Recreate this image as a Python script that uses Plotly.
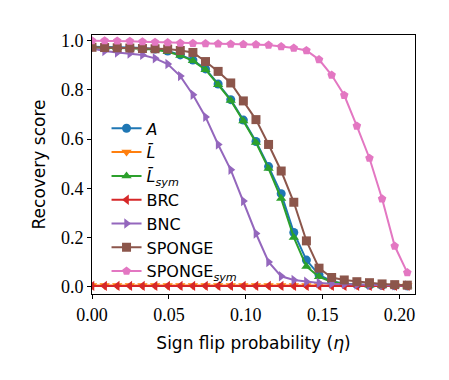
import plotly.graph_objects as go

# sign flip probability (x)
eta = [0.0, 0.0082, 0.0164, 0.0246, 0.0328, 0.041, 0.0492, 0.0574, 0.0656, 0.0738,
       0.082, 0.0902, 0.0984, 0.1066, 0.1148, 0.123, 0.1312, 0.1394, 0.1476, 0.1558,
       0.164, 0.1722, 0.1804, 0.1886, 0.1968, 0.205]

# recovery scores per method
A_score = [0.975, 0.975, 0.974, 0.972, 0.970, 0.966, 0.958, 0.942, 0.921, 0.885,
           0.824, 0.760, 0.677, 0.590, 0.488, 0.378, 0.220, 0.108, 0.048, 0.022,
           0.012, 0.008, 0.006, 0.005, 0.004, 0.003]
Lbar_score = [0.005] * 26
Lsym_score = [0.972, 0.972, 0.971, 0.969, 0.967, 0.963, 0.955, 0.940, 0.918, 0.882,
              0.821, 0.757, 0.673, 0.586, 0.480, 0.358, 0.200, 0.082, 0.040, 0.020,
              0.012, 0.008, 0.006, 0.005, 0.004, 0.003]
BRC_score = [0.003] * 26
BNC_score = [0.968, 0.958, 0.952, 0.948, 0.942, 0.928, 0.905, 0.856, 0.780, 0.690,
             0.578, 0.475, 0.348, 0.216, 0.100, 0.042, 0.027, 0.020, 0.015, 0.012,
             0.010, 0.008, 0.007, 0.006, 0.005, 0.005]
SPONGE_score = [0.973, 0.972, 0.971, 0.970, 0.968, 0.967, 0.966, 0.960, 0.952, 0.915,
                0.875, 0.828, 0.755, 0.679, 0.578, 0.470, 0.343, 0.186, 0.075, 0.037,
                0.027, 0.020, 0.016, 0.011, 0.008, 0.006]
SPONGEsym_score = [1.0, 1.0, 0.999, 0.998, 0.996, 0.994, 0.992, 0.990, 0.989, 0.988,
                   0.987, 0.986, 0.985, 0.984, 0.982, 0.976, 0.970, 0.960, 0.923, 0.860,
                   0.778, 0.653, 0.522, 0.357, 0.165, 0.057]

x_ticks = [0.0, 0.05, 0.10, 0.15, 0.20]
y_ticks = [0.0, 0.2, 0.4, 0.6, 0.8, 1.0]

series = [
    ("<i>A</i>", A_score, "#1f77b4", "circle"),
    ("<i>L\u0304</i>", Lbar_score, "#ff7f0e", "triangle-down"),
    ("<i>L\u0304</i><sub><i>sym</i></sub>", Lsym_score, "#2ca02c", "triangle-up"),
    ("BRC", BRC_score, "#d62728", "triangle-left"),
    ("BNC", BNC_score, "#9467bd", "triangle-right"),
    ("SPONGE", SPONGE_score, "#8c564b", "square"),
    ("SPONGE<sub><i>sym</i></sub>", SPONGEsym_score, "#e377c2", "pentagon"),
]

tick_font = dict(family="Liberation Serif, Times New Roman, DejaVu Serif, serif", size=18, color="black")
label_font = dict(family="DejaVu Sans", size=17, color="black")

fig = go.Figure()
for name, vals, color, sym in series:
    fig.add_trace(go.Scatter(
        x=eta, y=vals, name=name, mode="lines+markers",
        line=dict(color=color, width=2),
        marker=dict(color=color, symbol=sym, size=9),
    ))

# page body adds an 8px offset, so margins are shifted to compensate
fig.update_layout(
    width=449, height=380,
    margin=dict(l=84, r=42, t=27, b=94),
    paper_bgcolor="white", plot_bgcolor="white",
    showlegend=True,
    legend=dict(x=0.045, y=0.705, xanchor="left", yanchor="top",
                bgcolor="rgba(0,0,0,0)", font=dict(family="DejaVu Sans", size=16, color="black"),
                tracegroupgap=0, itemwidth=30),
)
fig.update_xaxes(
    range=[0, 0.21], tickvals=x_ticks, ticktext=["%.2f" % v for v in x_ticks],
    ticks="outside", ticklen=4, tickcolor="black",
    showline=True, linecolor="black", linewidth=1, mirror=True,
    showgrid=False, zeroline=False, tickfont=tick_font,
    title=dict(text="Sign flip probability (<i>η</i>)", font=label_font, standoff=13),
)
fig.update_yaxes(
    range=[-0.03, 1.023], tickvals=y_ticks, ticktext=["%.1f" % v for v in y_ticks],
    ticks="outside", ticklen=4, tickcolor="black",
    showline=True, linecolor="black", linewidth=1, mirror=True,
    showgrid=False, zeroline=False, tickfont=tick_font,
    title=dict(text="Recovery score", font=label_font, standoff=10),
)

fig.write_html("out.html")
